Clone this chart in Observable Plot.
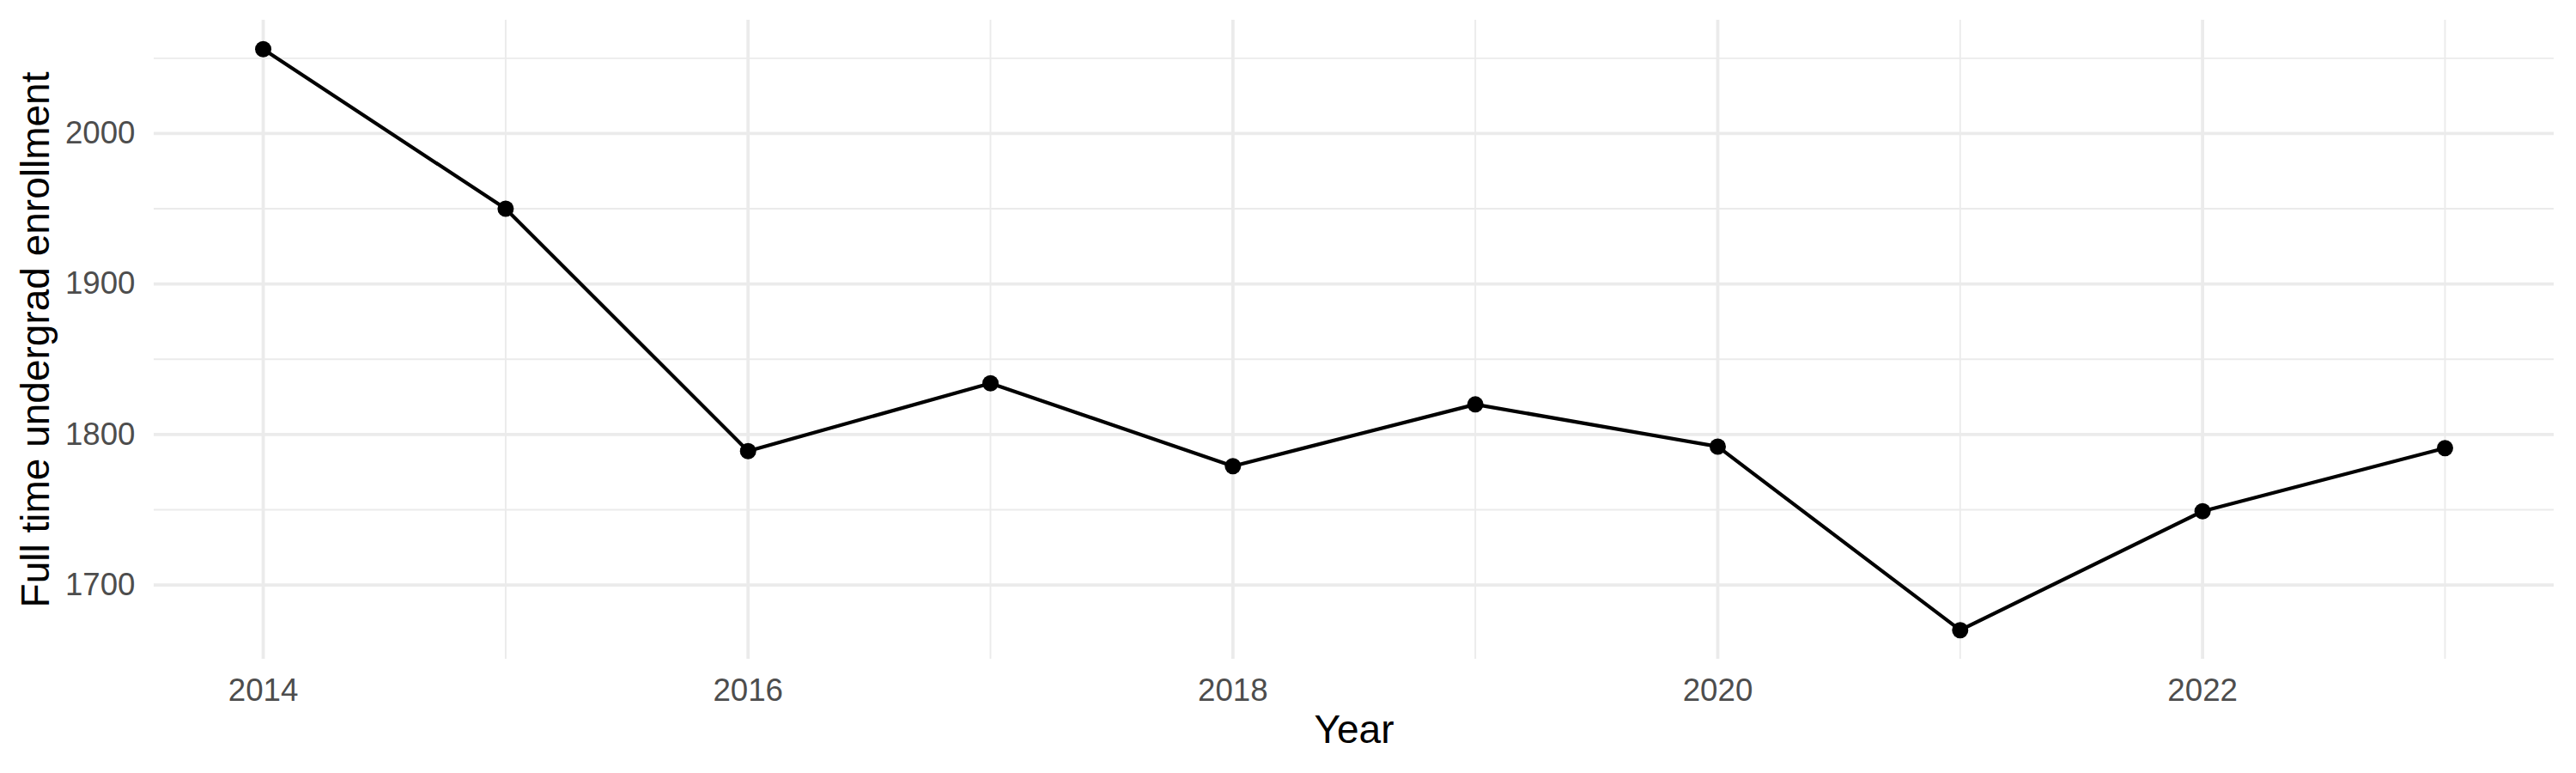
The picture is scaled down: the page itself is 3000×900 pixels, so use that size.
<!DOCTYPE html>
<html>
<head>
<meta charset="utf-8">
<script src="https://cdn.jsdelivr.net/npm/d3@7"></script>
<script src="https://cdn.jsdelivr.net/npm/@observablehq/plot@0.6"></script>
<style>
  html, body { margin: 0; padding: 0; background: #ffffff; }
  #chart svg { display: block; }
</style>
</head>
<body>
<div id="chart"></div>
<script>
// ---- data ----
const years = [2014, 2015, 2016, 2017, 2018, 2019, 2020, 2021, 2022, 2023];
const enrollment = [2056, 1950, 1789, 1834, 1779, 1820, 1792, 1670, 1749, 1791];

// ---- tick values ----
const xMajorTicks = [2014, 2016, 2018, 2020, 2022];
const xMinorTicks = [2015, 2017, 2019, 2021, 2023];
const yMajorTicks = [1700, 1800, 1900, 2000];
const yMinorTicks = [1750, 1850, 1950, 2050];

const xTitle = "Year";
const yTitle = "Full time undergrad enrollment";

const data = years.map((y, i) => ({ year: y, value: enrollment[i] }));

// ggplot-like 5% expansion
const [xmin, xmax] = d3.extent(years);
const [ymin, ymax] = d3.extent(enrollment);
const xpad = (xmax - xmin) * 0.05;
const ypad = (ymax - ymin) * 0.05;

const gridColor = "#EBEBEB";
const tickFont = 36.7;
const titleFont = 46;

const chart = Plot.plot({
  width: 3000,
  height: 900,
  marginLeft: 179,
  marginRight: 26,
  marginTop: 23,
  marginBottom: 133,
  style: { fontFamily: "'Liberation Sans', Arial, Helvetica, sans-serif", background: "#ffffff", overflow: "visible" },
  x: { domain: [xmin - xpad, xmax + xpad] },
  y: { domain: [ymin - ypad, ymax + ypad] },
  marks: [
    Plot.ruleY(yMinorTicks, { stroke: gridColor, strokeWidth: 1.9 }),
    Plot.ruleX(xMinorTicks, { stroke: gridColor, strokeWidth: 1.9 }),
    Plot.ruleY(yMajorTicks, { stroke: gridColor, strokeWidth: 3.8 }),
    Plot.ruleX(xMajorTicks, { stroke: gridColor, strokeWidth: 3.8 }),
    Plot.axisX(xMajorTicks, {
      tickSize: 0, tickPadding: 22, fontSize: tickFont, fill: "#4D4D4D",
      tickFormat: d => String(d), label: null
    }),
    Plot.axisY(yMajorTicks, {
      tickSize: 0, tickPadding: 22, fontSize: tickFont, fill: "#4D4D4D",
      tickFormat: d => String(d), label: null
    }),
    Plot.line(data, { x: "year", y: "value", stroke: "#000000", strokeWidth: 4.2 }),
    Plot.dot(data, { x: "year", y: "value", r: 9.5, fill: "#000000", stroke: null }),
    Plot.text([xTitle], { frameAnchor: "bottom", dy: 83, fontSize: titleFont, fill: "#000000", textAnchor: "middle", lineAnchor: "middle" }),
    Plot.text([yTitle], { frameAnchor: "left", dx: -137, rotate: -90, fontSize: titleFont, fill: "#000000", textAnchor: "middle", lineAnchor: "middle" })
  ]
});

document.getElementById("chart").appendChild(chart);
</script>
</body>
</html>
